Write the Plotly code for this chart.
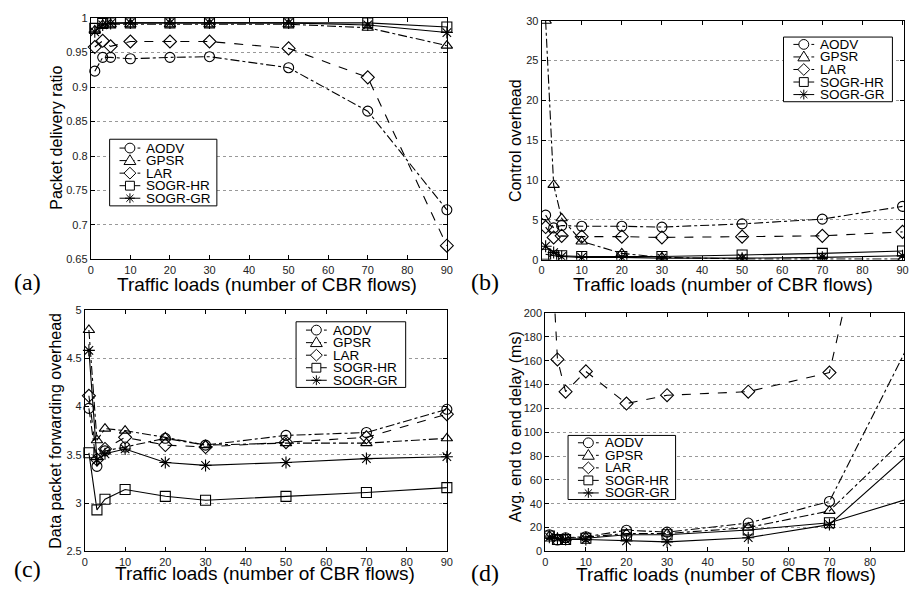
import plotly.graph_objects as go

flows = [1, 3, 5, 10, 20, 30, 50, 70, 90]
names = ["AODV", "GPSR", "LAR", "SOGR-HR", "SOGR-GR"]

pdr = {
    "AODV":    [0.923, 0.943, 0.943, 0.941, 0.943, 0.944, 0.928, 0.865, 0.722],
    "GPSR":    [0.982, 0.990, 0.991, 0.991, 0.991, 0.991, 0.991, 0.986, 0.960],
    "LAR":     [0.958, 0.967, 0.959, 0.966, 0.966, 0.966, 0.956, 0.914, 0.670],
    "SOGR-HR": [0.985, 0.992, 0.993, 0.993, 0.993, 0.993, 0.993, 0.993, 0.987],
    "SOGR-GR": [0.980, 0.990, 0.992, 0.993, 0.993, 0.993, 0.993, 0.990, 0.979],
}
ctrl = {
    "AODV":    [5.6, 4.0, 4.3, 4.2, 4.2, 4.1, 4.5, 5.1, 6.7],
    "GPSR":    [30.0, 9.4, 5.2, 2.3, 0.8, 0.3, 0.1, 0.1, 0.1],
    "LAR":     [4.1, 2.8, 3.0, 2.9, 2.9, 2.8, 2.9, 3.0, 3.5],
    "SOGR-HR": [0.7, 0.5, 0.5, 0.4, 0.4, 0.4, 0.6, 0.8, 1.1],
    "SOGR-GR": [1.7, 0.9, 0.4, 0.3, 0.3, 0.2, 0.2, 0.3, 0.5],
}
fwd = {
    "AODV":    [3.98, 3.38, 3.54, 3.58, 3.67, 3.60, 3.70, 3.73, 3.97],
    "GPSR":    [4.79, 3.65, 3.77, 3.75, 3.68, 3.60, 3.62, 3.62, 3.67],
    "LAR":     [4.11, 3.45, 3.56, 3.68, 3.60, 3.58, 3.63, 3.68, 3.92],
    "SOGR-HR": [3.52, 2.93, 3.04, 3.14, 3.07, 3.03, 3.07, 3.11, 3.16],
    "SOGR-GR": [4.58, 3.45, 3.51, 3.56, 3.42, 3.39, 3.42, 3.46, 3.48],
}
delay = {
    "AODV":    [14, 9.6, 11.5, 12.3, 17.8, 16.2, 23.8, 41.9, 176.7],
    "GPSR":    [13, 11, 11, 12, 15, 15, 20, 34, 99.5],
    "LAR":     [290, 161, 134, 151, 124, 131, 134, 150, 450],
    "SOGR-HR": [13, 10, 10, 11, 14, 14, 18, 24, 44.7],
    "SOGR-GR": [12, 11, 10, 10, 8.8, 8, 11.5, 22.5, 83],
}

x_title = "Traffic loads (number of CBR flows)"
y_titles = ["Packet delivery ratio", "Control overhead",
            "Data packet forwarding overhead", "Avg. end to end delay (ms)"]
panel_labels = ["(a)", "(b)", "(c)", "(d)"]

symbols = {"AODV": "circle-open", "GPSR": "triangle-up-open", "LAR": "diamond-open",
           "SOGR-HR": "square-open", "SOGR-GR": "asterisk-open"}
dashes = {"AODV": "dashdot", "GPSR": "dashdot", "LAR": "dash",
          "SOGR-HR": "solid", "SOGR-GR": "solid"}

FONT = "Liberation Sans, Arial, sans-serif"
SERIF = "Liberation Serif, Times New Roman, serif"
W, H = 910, 593
fig = go.Figure()

panels = [
    (pdr, "x", "y", False),
    (ctrl, "x2", "y2", True),
    (fwd, "x3", "y3", False),
    (delay, "x4", "y4", True),
]
for data, xa, ya, clip in panels:
    for n in names:
        fig.add_trace(go.Scatter(
            x=flows, y=data[n], name=n, xaxis=xa, yaxis=ya, showlegend=False,
            mode="lines+markers", cliponaxis=clip,
            line=dict(color="black", width=1.1, dash=dashes[n]),
            marker=dict(symbol=symbols[n], size=10, color="black",
                        line=dict(width=1.1, color="black")),
        ))

def xd(a, b): return [a / W, min(b / W, 1.0)]
def yd(top, bot): return [1 - bot / H, 1 - top / H]

axcommon = dict(showline=True, mirror="ticks", linecolor="black", linewidth=1,
                ticks="inside", ticklen=4, tickcolor="black",
                tickfont=dict(family=FONT, size=11, color="#222"),
                zeroline=False)
grid = dict(showgrid=True, gridcolor="#999", griddash="dot", gridwidth=1)

fig.update_layout(
    width=W, height=H, margin=dict(l=0, r=0, t=0, b=0),
    paper_bgcolor="white", plot_bgcolor="white",
    font=dict(family=FONT, color="black"), showlegend=False,
    xaxis=dict(domain=xd(88.7, 448.3), range=[0, 90], dtick=10, anchor="y",
               showgrid=False, **axcommon),
    yaxis=dict(domain=yd(12.3, 258.7), range=[0.65, 1], dtick=0.05, anchor="x",
               **grid, **axcommon),
    xaxis2=dict(domain=xd(544, 910), range=[0, 90.37], dtick=10, anchor="y2",
                showgrid=False, **axcommon),
    yaxis2=dict(domain=yd(15, 259), range=[0, 30], dtick=5, anchor="x2",
                **grid, **axcommon),
    xaxis3=dict(domain=xd(82.7, 448.3), range=[0, 90], dtick=10, anchor="y3",
                showgrid=False, **axcommon),
    yaxis3=dict(domain=yd(310, 556.7), range=[2.5, 5], dtick=0.5, anchor="x3",
                **grid, **axcommon),
    xaxis4=dict(domain=xd(547.7, 910), range=[0, 88.37], dtick=10, anchor="y4",
                showgrid=False, **axcommon),
    yaxis4=dict(domain=yd(313.3, 556.7), range=[0, 200], dtick=20, anchor="x4",
                **grid, **axcommon),
)

# ---- legends drawn as shapes + annotations (compact, like the original) ----
def PX(px): return px / W
def PY(py): return 1 - py / H

shapes = []
ann = []

def marker_shapes(sym, cx, cy):
    ln = dict(color="black", width=1)
    out = []
    if sym == "AODV":
        r = 5
        out.append(dict(type="circle", x0=PX(cx - r), x1=PX(cx + r), y0=PY(cy + r), y1=PY(cy - r),
                        fillcolor="white", line=ln))
    elif sym == "GPSR":
        p = f"M{PX(cx-6)},{PY(cy+4)} L{PX(cx+6)},{PY(cy+4)} L{PX(cx)},{PY(cy-6)} Z"
        out.append(dict(type="path", path=p, fillcolor="white", line=ln))
    elif sym == "LAR":
        p = (f"M{PX(cx)},{PY(cy-6)} L{PX(cx+6)},{PY(cy)} L{PX(cx)},{PY(cy+6)} "
             f"L{PX(cx-6)},{PY(cy)} Z")
        out.append(dict(type="path", path=p, fillcolor="white", line=ln))
    elif sym == "SOGR-HR":
        r = 4.5
        out.append(dict(type="rect", x0=PX(cx - r), x1=PX(cx + r), y0=PY(cy + r), y1=PY(cy - r),
                        fillcolor="white", line=ln))
    else:
        r = 5
        d = 3.6
        p = (f"M{PX(cx-r)},{PY(cy)} L{PX(cx+r)},{PY(cy)} M{PX(cx)},{PY(cy-r)} L{PX(cx)},{PY(cy+r)} "
             f"M{PX(cx-d)},{PY(cy-d)} L{PX(cx+d)},{PY(cy+d)} M{PX(cx-d)},{PY(cy+d)} L{PX(cx+d)},{PY(cy-d)}")
        out.append(dict(type="path", path=p, line=ln))
    return out

def legend_box(x0, y0, x1, y1, first_row, step=12.8):
    shapes.append(dict(type="rect", xref="paper", yref="paper", layer="above",
                       x0=PX(x0), x1=PX(x1), y0=PY(y1), y1=PY(y0),
                       fillcolor="white", line=dict(color="black", width=1)))
    for i, n in enumerate(names):
        cy = y0 + first_row + i * step
        shapes.append(dict(type="line", xref="paper", yref="paper", layer="above",
                           x0=PX(x0 + 10), x1=PX(x0 + 31), y0=PY(cy), y1=PY(cy),
                           line=dict(color="black", width=1, dash=dashes[n])))
        for s in marker_shapes(n, x0 + 20.5, cy):
            s.update(xref="paper", yref="paper", layer="above")
            shapes.append(s)
        ann.append(dict(x=PX(x0 + 35), y=PY(cy), xref="paper", yref="paper", text=n,
                        showarrow=False, xanchor="left", yanchor="middle",
                        font=dict(family=FONT, size=13.5, color="black")))

legend_box(107.7, 136, 216, 204, 9)
legend_box(788.3, 31.7, 898.3, 97.7, 7.5)
legend_box(296, 322.3, 406.7, 389.3, 8.5)
legend_box(570.7, 438.3, 679.3, 503.7, 7.5)

def txt(x, y, s, size, angle=0, family=FONT):
    ann.append(dict(x=x / W, y=1 - y / H, xref="paper", yref="paper", text=s,
                    showarrow=False, textangle=angle, xanchor="center", yanchor="middle",
                    font=dict(family=family, size=size, color="black")))

txt(267, 284, x_title, 19)
txt(727, 284, x_title, 19)
txt(265, 579, x_title, 19)
txt(730, 580, x_title, 19)
txt(54, 134, y_titles[0], 16, -90)
txt(517, 137, y_titles[1], 16, -90)
txt(53, 433, y_titles[2], 16, -90)
txt(517, 429, y_titles[3], 16, -90)
txt(25, 282, panel_labels[0], 24, family=SERIF)
txt(487, 282, panel_labels[1], 24, family=SERIF)
txt(25, 575, panel_labels[2], 24, family=SERIF)
txt(487, 579, panel_labels[3], 24, family=SERIF)

fig.update_layout(shapes=shapes, annotations=ann)
fig.write_html("out.html")
